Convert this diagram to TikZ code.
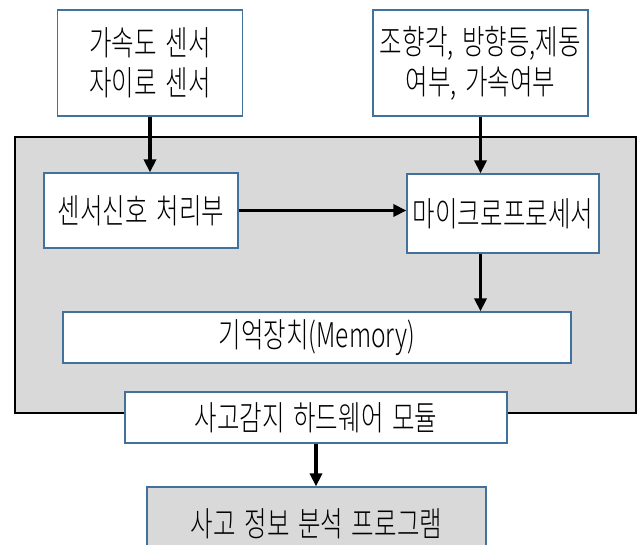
\documentclass[tikz,border=0pt]{standalone}
\usepackage{fontspec}
\setmainfont{Noto Sans CJK KR Light}[FakeStretch=0.72,WordSpace=1.6]
\usetikzlibrary{arrows.meta}
\definecolor{boxblue}{HTML}{41719C}
\definecolor{panel}{HTML}{D9D9D9}
\tikzset{
  box/.style={draw=boxblue, line width=1.2pt, fill=white, inner sep=0pt,
    font=\fontsize{34}{40}\selectfont, align=center},
  panelbox/.style={draw=black, line width=1.5pt, fill=panel, inner sep=0pt},
  arr/.style={line width=3.5pt, -{Triangle[length=13pt,width=12pt]}}
}
\begin{document}
\begin{tikzpicture}[x=1pt,y=-1pt]
\useasboundingbox (0,0) rectangle (639,544);
\node[panelbox, minimum width=621pt, minimum height=276pt] (G) at (325.5,275) {};
\node[box, minimum width=185pt, minimum height=106pt] (A) at (150,63) {가속도 센서\\자이로 센서};
\node[box, minimum width=215pt, minimum height=106pt] (B) at (480.5,63) {조향각, 방향등,제동\\여부, 가속여부};
\node[box, minimum width=194pt, minimum height=75pt] (S) at (141,210.5) {센서신호 처리부};
\node[box, minimum width=192pt, minimum height=79pt] (M) at (503,213.5) {마이크로프로세서};
\node[box, minimum width=508pt, minimum height=51pt] (Mem) at (317,337.5) {기억장치(Memory)};
\node[box, minimum width=382pt, minimum height=51pt] (H) at (316,417.5) {사고감지 하드웨어 모듈};
\begin{scope}
\clip (0,0) rectangle (639,544);
\node[box, fill=panel, minimum width=339pt, minimum height=73pt] (P) at (316.5,523.5) {사고 정보 분석 프로그램};
\end{scope}
\draw[arr] (A.south) -- (A.south |- S.north);
\draw[arr] (B.south) -- (B.south |- M.north);
\draw[arr] (S.east) -- (S.east -| M.west);
\draw[arr] (B.south |- M.south) -- (B.south |- Mem.north);
\draw[arr] (H.south) -- (H.south |- P.north);
\end{tikzpicture}
\end{document}
